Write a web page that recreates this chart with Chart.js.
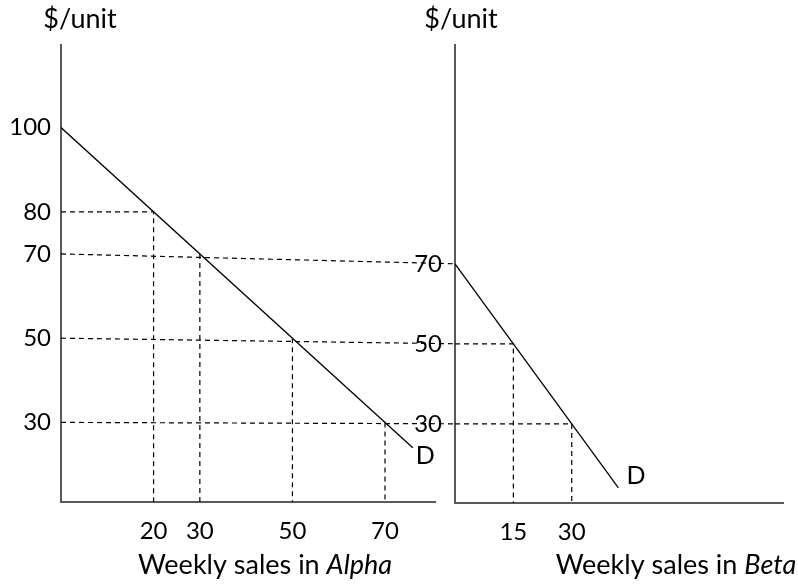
<!DOCTYPE html>
<html>
<head>
<meta charset="utf-8">
<script src="https://cdn.jsdelivr.net/npm/chart.js@4.4.1/dist/chart.umd.min.js"></script>
<style>
  body { margin: 0; background: #fff; }
  #wrap { position: relative; width: 798px; height: 587px; }
  #wrap canvas { position: absolute; left: 0; top: 0; }
</style>
</head>
<body>
<div id="wrap">
  <canvas id="alpha" width="798" height="587"></canvas>
  <canvas id="beta" width="798" height="587"></canvas>
</div>
<script>
// market Alpha: demand P = 100 - Q
const alphaDemandQ = [0, 76];
const alphaDemandP = [100, 24];
const alphaGuideQ = [20, 30, 50, 70];
const alphaGuideP = [80, 70, 50, 30];
const alphaPriceTicks = [100, 80, 70, 50, 30];
const alphaQtyTicks = [20, 30, 50, 70];

// market Beta: demand P = 70 - 4/3 Q
const betaDemandQ = [0, 42];
const betaDemandP = [70, 14];
const betaGuideQ = [15, 30];
const betaGuideP = [50, 30];
const betaPriceTicks = [70, 50, 30];
const betaQtyTicks = [15, 30];

// prices whose dashed line runs across from Alpha's axis to Beta's axis
const bridgePrices = [70, 50, 30];

const FONT = 'Lato';
const AXIS = '#595959';
const TEXT_SIZE = 27;
Chart.defaults.font.family = FONT;
Chart.defaults.font.size = 24;
Chart.defaults.color = '#000';

const dash = [5, 4];

function demandSet(qs, ps) {
  return {
    data: qs.map((q, i) => ({ x: q, y: ps[i] })),
    borderColor: '#000', borderWidth: 1.3, pointRadius: 0, fill: false, tension: 0
  };
}

function guideSets(qs, ps, yMin, skipHoriz) {
  return qs.map((q, i) => {
    const p = ps[i];
    const pts = skipHoriz.includes(p)
      ? [{ x: q, y: p }, { x: q, y: yMin }]
      : [{ x: 0, y: p }, { x: q, y: p }, { x: q, y: yMin }];
    return {
      data: pts, borderColor: '#000', borderWidth: 1.2, borderDash: dash,
      pointRadius: 0, fill: false, tension: 0
    };
  });
}

function axisOpts(min, max, ticks, isX, pad) {
  return {
    type: 'linear', min: min, max: max,
    afterBuildTicks: s => { s.ticks = ticks.map(v => ({ value: v })); },
    afterFit: s => { if (isX) s.height = 40; else s.width = 61; },
    grid: { display: false, drawTicks: false },
    border: { color: AXIS, width: 2 },
    ticks: { padding: pad, autoSkip: false, maxRotation: 0, color: '#000', font: { size: 24 } }
  };
}

// draws "Weekly sales in " + italic word, centred on cx
function mixedTitle(ctx, plain, italic, cx, y) {
  ctx.save();
  ctx.textBaseline = 'alphabetic';
  ctx.textAlign = 'left';
  ctx.fillStyle = '#000';
  ctx.font = TEXT_SIZE + 'px ' + FONT;
  const w1 = ctx.measureText(plain).width;
  ctx.font = 'italic ' + TEXT_SIZE + 'px ' + FONT;
  const w2 = ctx.measureText(italic).width;
  const x = cx - (w1 + w2) / 2;
  ctx.font = TEXT_SIZE + 'px ' + FONT;
  ctx.fillText(plain, x, y);
  ctx.font = 'italic ' + TEXT_SIZE + 'px ' + FONT;
  ctx.fillText(italic, x + w1, y);
  ctx.restore();
}

function labelsPlugin(cfg) {
  return {
    id: 'labels',
    afterDraw(chart) {
      const ctx = chart.ctx;
      const xs = chart.scales.x;
      ctx.save();
      ctx.fillStyle = '#000';
      ctx.font = TEXT_SIZE + 'px ' + FONT;
      ctx.textBaseline = 'alphabetic';
      ctx.textAlign = 'center';
      ctx.fillText('$/unit', xs.getPixelForValue(0) + cfg.unitDx, 28);
      // D label at the end of the demand line
      const last = chart.getDatasetMeta(0).data.at(-1);
      ctx.font = '25px ' + FONT;
      ctx.textAlign = 'left';
      ctx.textBaseline = 'middle';
      ctx.fillText('D', last.x + cfg.dDx, last.y + cfg.dDy);
      ctx.restore();
      mixedTitle(ctx, 'Weekly sales in ', cfg.italic, cfg.titleX, 574);
    }
  };
}

const alphaYMin = 11.1;
const alphaChart = new Chart(document.getElementById('alpha'), {
  type: 'line',
  data: {
    datasets: [demandSet(alphaDemandQ, alphaDemandP)]
      .concat(guideSets(alphaGuideQ, alphaGuideP, alphaYMin, bridgePrices))
  },
  options: {
    responsive: false, animation: false, events: [],
    layout: { padding: { top: 45, bottom: 45, left: 0, right: 363 } },
    plugins: { legend: { display: false }, tooltip: { enabled: false } },
    scales: {
      x: axisOpts(0, 80.8, alphaQtyTicks, true, 15),
      y: axisOpts(alphaYMin, 119.6, alphaPriceTicks, false, 10)
    }
  },
  plugins: [labelsPlugin({ unitDx: 19, dDx: 3, dDy: 8, italic: 'Alpha', titleX: 265 })]
});

const betaYMin = 10.2;
// dashed lines joining the two panels, drawn through both charts' scales
const bridgePlugin = {
  id: 'bridge',
  afterDatasetsDraw(chart) {
    const ctx = chart.ctx;
    const ax = alphaChart.scales.x, ay = alphaChart.scales.y;
    const bx = chart.scales.x, by = chart.scales.y;
    ctx.save();
    ctx.strokeStyle = '#000';
    ctx.lineWidth = 1.2;
    ctx.setLineDash(dash);
    bridgePrices.forEach(p => {
      ctx.beginPath();
      ctx.moveTo(ax.getPixelForValue(0), ay.getPixelForValue(p));
      ctx.lineTo(bx.getPixelForValue(0), by.getPixelForValue(p));
      ctx.stroke();
    });
    ctx.restore();
  }
};

new Chart(document.getElementById('beta'), {
  type: 'line',
  data: {
    datasets: [demandSet(betaDemandQ, betaDemandP)]
      .concat(guideSets(betaGuideQ, betaGuideP, betaYMin, []))
  },
  options: {
    responsive: false, animation: false, events: [],
    layout: { padding: { top: 45, bottom: 44, left: 394, right: 15 } },
    plugins: { legend: { display: false }, tooltip: { enabled: false } },
    scales: {
      x: axisOpts(0, 84.3, betaQtyTicks, true, 15),
      y: axisOpts(betaYMin, 124.7, betaPriceTicks, false, 13)
    }
  },
  plugins: [bridgePlugin, labelsPlugin({ unitDx: 6, dDx: 8, dDy: -12, italic: 'Beta', titleX: 676 })]
});
</script>
</body>
</html>
